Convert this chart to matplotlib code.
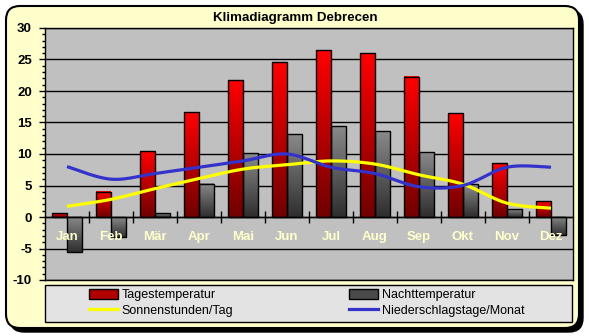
import numpy as np
import matplotlib
matplotlib.use('Agg')
import matplotlib.pyplot as plt
from matplotlib.patches import FancyBboxPatch, Rectangle, Patch
from matplotlib.lines import Line2D
from matplotlib.colors import LinearSegmentedColormap
from matplotlib.transforms import IdentityTransform

plt.rcParams['font.family'] = ['Liberation Sans', 'DejaVu Sans']

months = ['Jan', 'Feb', 'Mär', 'Apr', 'Mai', 'Jun', 'Jul', 'Aug', 'Sep', 'Okt', 'Nov', 'Dez']
tagestemp = [0.6, 4.0, 10.4, 16.6, 21.7, 24.6, 26.5, 26.0, 22.3, 16.5, 8.5, 2.5]
nachttemp = [-5.6, -3.1, 0.6, 5.3, 10.1, 13.1, 14.4, 13.6, 10.3, 5.2, 1.2, -2.9]
sonne = [1.7, 2.8, 4.5, 6.1, 7.6, 8.3, 8.9, 8.4, 6.7, 5.2, 2.2, 1.4]
nieder = [8.0, 6.0, 6.9, 7.9, 8.9, 10.0, 7.9, 6.9, 4.8, 5.0, 7.9, 7.9]
yticks = [-10, -5, 0, 5, 10, 15, 20, 25, 30]

W, H = 589, 336
fig = plt.figure(figsize=(W / 100, H / 100), dpi=100)
fig.patch.set_facecolor('white')

def fx(px):
    return px / W

def fy(py):
    return 1 - py / H

# outer frame with shadow (pixel coordinates)
shadow = FancyBboxPatch((10, H - 332), 573, 322, boxstyle='round,pad=0,rounding_size=14',
                        fc='black', ec='black', lw=1, transform=IdentityTransform(), zorder=-3)
frame = FancyBboxPatch((6, H - 328), 573, 322, boxstyle='round,pad=0,rounding_size=14',
                       fc='#FFFFCC', ec='black', lw=1.5, transform=IdentityTransform(), zorder=-2)
fig.patches.extend([shadow, frame])

# legend box
legbox = Rectangle((fx(45), fy(322)), fx(572) - fx(45), fy(285) - fy(322), transform=fig.transFigure,
                   fc='#E3E3E3', ec='black', lw=1, zorder=-1)
fig.patches.append(legbox)

ax = fig.add_axes([fx(45), fy(280), fx(573) - fx(45), fy(28) - fy(280)])
ax.set_facecolor('#C0C0C0')
for s in ax.spines.values():
    s.set_color('black')
    s.set_linewidth(1)

x = np.arange(len(months))
bw = 0.33
red_cmap = LinearSegmentedColormap.from_list('r', ['#FF0000', '#700000'])
grey_cmap = LinearSegmentedColormap.from_list('g', ['#8A8A8A', '#2E2E2E'])

bars_r = ax.bar(x - bw / 2, tagestemp, bw, facecolor='none', edgecolor='black', lw=1, zorder=4)
bars_g = ax.bar(x + bw / 2, nachttemp, bw, facecolor='none', edgecolor='black', lw=1, zorder=4)
grad = np.linspace(0, 1, 256).reshape(-1, 1)
for bars, cm in ((bars_r, red_cmap), (bars_g, grey_cmap)):
    for b in bars:
        x0, y0 = b.get_x(), b.get_y()
        w, h = b.get_width(), b.get_height()
        lo, hi = min(y0, y0 + h), max(y0, y0 + h)
        ax.imshow(grad, extent=[x0, x0 + w, lo, hi], origin='upper', cmap=cm,
                  aspect='auto', zorder=3, interpolation='bilinear')

def smooth(xs, ys, n=24):
    xs = np.asarray(xs, float)
    ys = np.asarray(ys, float)
    px = np.concatenate([[xs[0]], xs, [xs[-1]]])
    py = np.concatenate([[ys[0]], ys, [ys[-1]]])
    ox, oy = [], []
    for i in range(1, len(px) - 2):
        p0x, p1x, p2x, p3x = px[i - 1], px[i], px[i + 1], px[i + 2]
        p0y, p1y, p2y, p3y = py[i - 1], py[i], py[i + 1], py[i + 2]
        c1x, c1y = p1x + (p2x - p0x) / 6, p1y + (p2y - p0y) / 6
        c2x, c2y = p2x - (p3x - p1x) / 6, p2y - (p3y - p1y) / 6
        t = np.linspace(0, 1, n)
        bx = (1 - t) ** 3 * p1x + 3 * (1 - t) ** 2 * t * c1x + 3 * (1 - t) * t ** 2 * c2x + t ** 3 * p2x
        by = (1 - t) ** 3 * p1y + 3 * (1 - t) ** 2 * t * c1y + 3 * (1 - t) * t ** 2 * c2y + t ** 3 * p2y
        ox.extend(bx)
        oy.extend(by)
    return np.array(ox), np.array(oy)

sx, sy = smooth(x, sonne)
ax.plot(sx, sy, color='#FFFF00', lw=2.3, zorder=5, solid_capstyle='butt')
nx, ny = smooth(x, nieder)
ax.plot(nx, ny, color='#3333CC', lw=2.3, zorder=6, solid_capstyle='butt')

ax.set_xlim(-0.5, 11.5)
ax.set_ylim(-10, 30)
ax.set_yticks(yticks)
ax.set_yticklabels([str(v) for v in yticks], fontsize=9.5, fontweight='bold')
ax.set_yticks(np.arange(-10, 31, 1), minor=True)
ax.tick_params(axis='y', which='major', length=4, width=1, pad=5.5, direction='out')
ax.tick_params(axis='y', which='minor', length=2, width=1, direction='out')
ax.yaxis.grid(True, which='major', color='black', lw=1, zorder=1)
ax.set_axisbelow(True)
ax.set_xticks([])

sec = ax.secondary_xaxis(0.25)
sec.set_zorder(10)
sec.spines['bottom'].set_linewidth(1)
sec.set_xticks(x)
sec.set_xticklabels(months, fontsize=9.5, fontweight='bold', color='#FFFFCC')
sec.set_xticks(np.arange(0.5, 11, 1), minor=True)
sec.tick_params(axis='x', which='major', length=0, pad=10)
sec.tick_params(axis='x', which='minor', length=9, width=1, direction='inout')

handles = [Patch(facecolor='#B00000', edgecolor='black', lw=1),
           Patch(facecolor='#4A4A4A', edgecolor='black', lw=1),
           Line2D([], [], color='#FFFF00', lw=2.3),
           Line2D([], [], color='#3333CC', lw=2.3)]
labels = ['Tagestemperatur', 'Nachttemperatur', 'Sonnenstunden/Tag', 'Niederschlagstage/Monat']
# order for ncol=2 (column-major)
order = [0, 2, 1, 3]
fig.legend([handles[i] for i in order], [labels[i] for i in order], ncol=2,
           loc='center left', bbox_to_anchor=(fx(89), fy(303)), frameon=False,
           fontsize=9, handlelength=2.3, handleheight=0.8, handletextpad=0.3,
           columnspacing=9.3, labelspacing=0.3, borderpad=0, borderaxespad=0)

fig.text(fx(295), fy(18), 'Klimadiagramm Debrecen', ha='center', va='center',
         fontsize=9.6, fontweight='bold')

fig.savefig('out.png', dpi=100)
